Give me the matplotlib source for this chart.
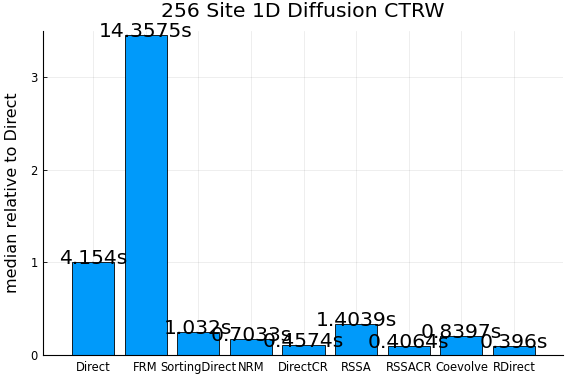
import matplotlib
matplotlib.use("Agg")
import matplotlib.pyplot as plt
import numpy as np

categories = ["Direct", "FRM", "SortingDirect", "NRM", "DirectCR", "RSSA", "RSSACR", "Coevolve", "RDirect"]
times = [4.154, 14.3575, 1.032, 0.7033, 0.4574, 1.4039, 0.4064, 0.8397, 0.396]
labels = ["4.154s", "14.3575s", "1.032s", "0.7033s", "0.4574s", "1.4039s", "0.4064s", "0.8397s", "0.396s"]
rel = [t / times[0] for t in times]

fig = plt.figure(figsize=(5.76, 3.84), dpi=100)
ax = fig.add_axes([43.3/576, (384-355)/384, (563-43.3)/576, (355-31)/384])

x = np.arange(len(categories))
ax.bar(x, rel, width=0.8, color="#009AFA", edgecolor="black", linewidth=0.6, zorder=2)
for xi, yi, lab in zip(x, rel, labels):
    ax.annotate(lab, (xi, yi), xytext=(0, 2.5), textcoords="offset points",
                ha="center", va="center", fontsize=14.6, color="black", zorder=3)

ax.set_xlim(-0.945, 8.93)
ax.set_ylim(0, 3.497)
ax.set_xticks(x)
ax.set_xticklabels(categories, fontsize=8.3)
ax.set_yticks([0, 1, 2, 3])
ax.set_yticklabels(["0", "1", "2", "3"], fontsize=8.3)
ax.tick_params(direction="in", length=3, width=0.6, pad=4)
ax.grid(True, color="black", alpha=0.08, linewidth=0.6, zorder=0)
ax.set_axisbelow(True)
for s in ["top", "right"]:
    ax.spines[s].set_visible(False)
for s in ["left", "bottom"]:
    ax.spines[s].set_linewidth(0.8)
ax.set_ylabel("median relative to Direct", fontsize=11.5)
ax.yaxis.set_label_coords(-23/520, 0.5)
ax.set_title("256 Site 1D Diffusion CTRW", fontsize=14.7, pad=10)

fig.savefig("out.png", dpi=100)
